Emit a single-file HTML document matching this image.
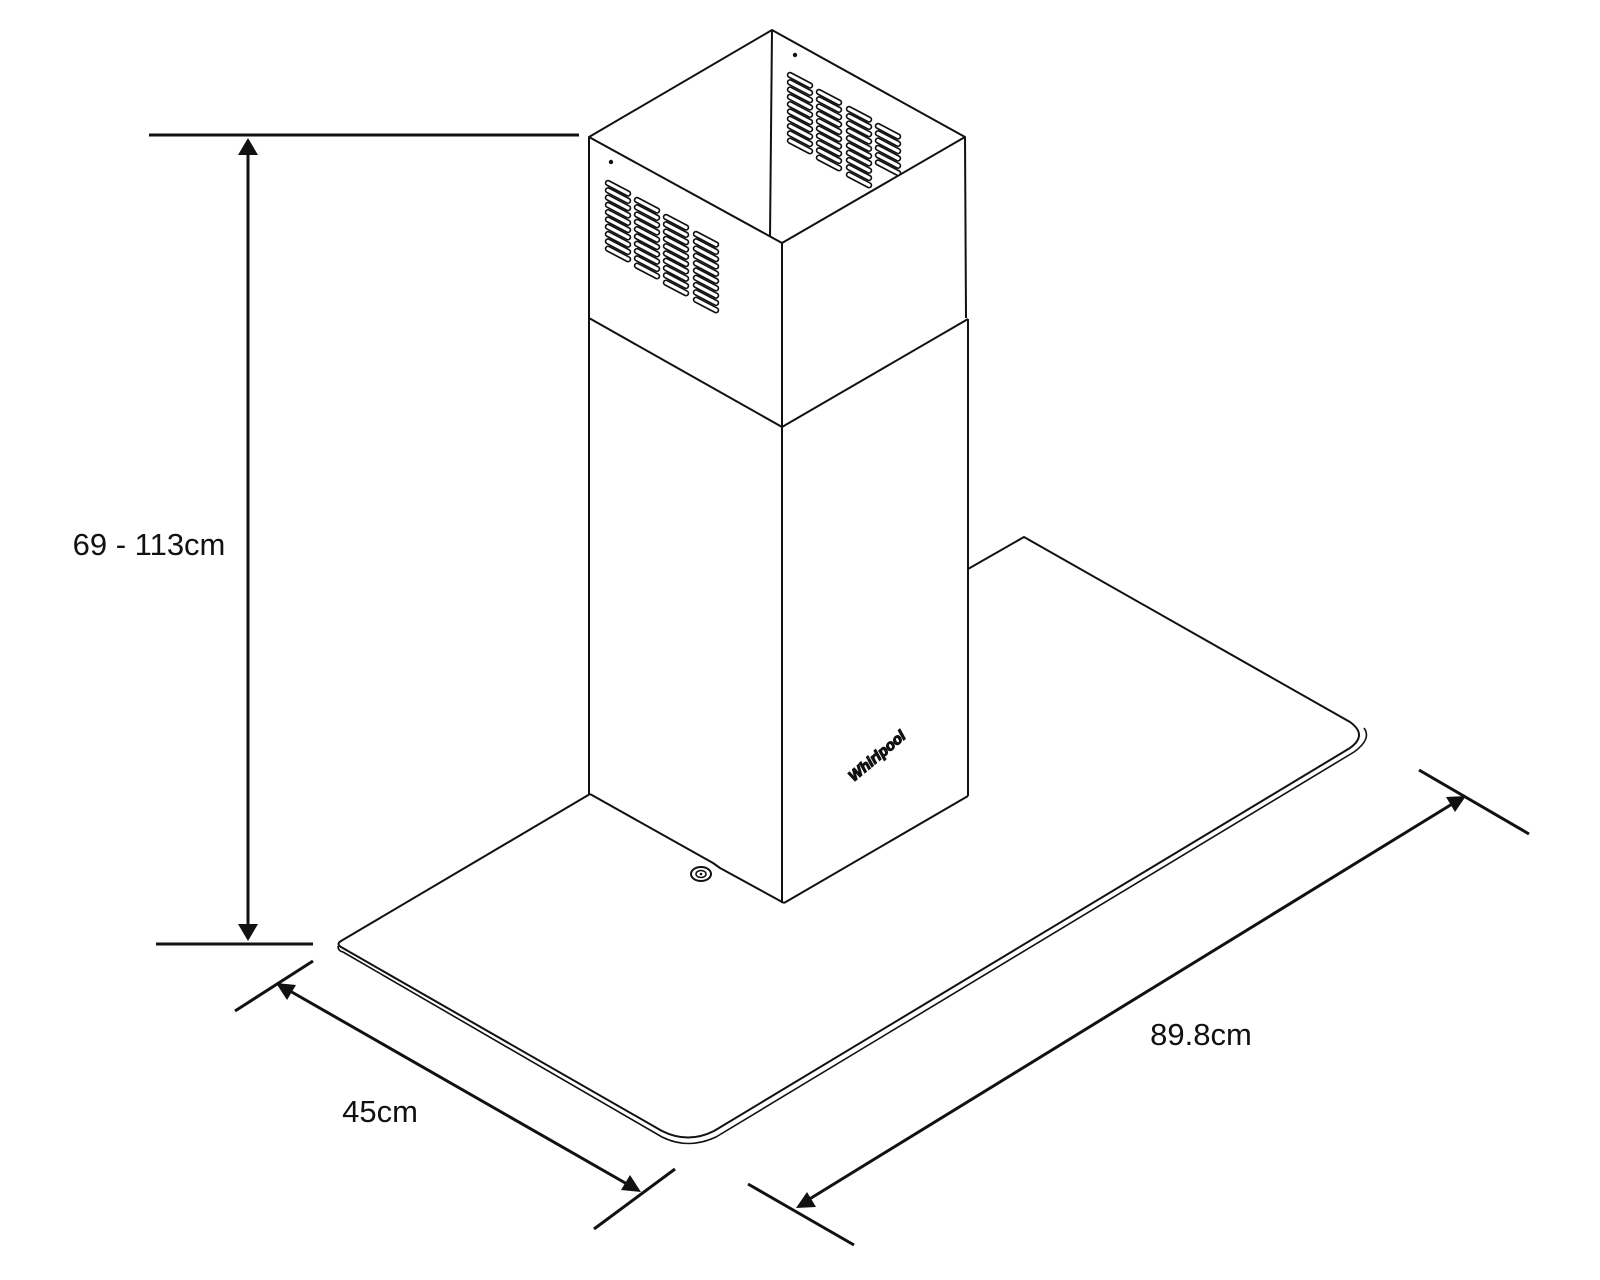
<!DOCTYPE html>
<html><head><meta charset="utf-8"><style>
html,body{margin:0;padding:0;background:#fff;}
svg{display:block;}
text{font-family:"Liberation Sans",sans-serif;fill:#111;}
</style></head><body>
<svg width="1600" height="1280" viewBox="0 0 1600 1280" xmlns="http://www.w3.org/2000/svg">
<defs>
<g id="slot"><line x1="0" y1="0" x2="20" y2="10.5" stroke="#111" stroke-width="6.5" stroke-linecap="round"/><line x1="0" y1="0" x2="20" y2="10.5" stroke="#fff" stroke-width="3.2" stroke-linecap="round"/></g>
<g id="col">
<use href="#slot" y="0"/><use href="#slot" y="7.3"/><use href="#slot" y="14.6"/><use href="#slot" y="21.9"/><use href="#slot" y="29.2"/><use href="#slot" y="36.5"/><use href="#slot" y="43.8"/><use href="#slot" y="51.1"/><use href="#slot" y="58.4"/><use href="#slot" y="65.7"/>
</g>
</defs>
<rect width="1600" height="1280" fill="#fff"/>

<g fill="none" stroke="#111" stroke-width="2" stroke-linejoin="round">
<path d="M590,794 L713,863 L720,868 L784,903"/>
<path d="M590,794 L341,941 Q336,944 341,947 L662,1131 Q688,1144 714,1131 L1350,748 Q1368,735 1350,722 L1024,537 L968,569"/>
<path d="M338,946 Q338,951 343,952 L662,1137 Q688,1150 716,1137 L1354,752 Q1372,739 1364,728" stroke-width="1.6"/>
<path d="M784,903 L968,796"/>
</g>
<ellipse cx="701" cy="874" rx="10" ry="7" fill="#fff" stroke="#111" stroke-width="2"/>
<ellipse cx="701" cy="874" rx="5" ry="3.5" fill="none" stroke="#111" stroke-width="1.5"/>
<circle cx="701" cy="874" r="1.3" fill="#111"/>

<g fill="none" stroke="#111" stroke-width="2" stroke-linejoin="round">
<path d="M589,137 L772,30 L965,137 L782,243 Z"/>
<path d="M772,30 L770,237"/>
<path d="M589,137 L589,794"/>
<path d="M782,243 L782,903"/>
<path d="M965,137 L966,318"/>
<path d="M589,318 L782,427 L968,319"/>
<path d="M968,319 L968,796"/>
</g>
<circle cx="611" cy="162" r="2.2" fill="#111"/>
<circle cx="795" cy="55" r="2.2" fill="#111"/>
<use href="#col" x="608" y="183"/>
<use href="#col" x="637" y="200"/>
<use href="#col" x="666" y="217"/>
<use href="#col" x="696" y="234"/>
<use href="#col" x="790" y="75"/>
<use href="#col" x="819" y="92"/>
<use href="#col" x="849" y="109"/>
<g><use href="#slot" x="878" y="126"/><use href="#slot" x="878" y="133.3"/><use href="#slot" x="878" y="140.6"/><use href="#slot" x="878" y="147.9"/><use href="#slot" x="878" y="155.2"/><use href="#slot" x="878" y="162.5"/></g>
<text x="877" y="761" font-size="15" font-weight="bold" font-style="italic" text-anchor="middle" stroke="#111" stroke-width="1.2" transform="rotate(-40 877 756)">Whirlpool</text>

<g stroke="#111" stroke-width="3" fill="none">
<line x1="149" y1="135" x2="579" y2="135"/>
<line x1="156" y1="944" x2="313" y2="944"/>
<line x1="248" y1="145" x2="248" y2="934"/>
<line x1="313" y1="961" x2="235" y2="1011"/>
<line x1="675" y1="1169" x2="594" y2="1229"/>
<line x1="283" y1="987" x2="634" y2="1188"/>
<line x1="1419" y1="770" x2="1529" y2="834"/>
<line x1="748" y1="1184" x2="854" y2="1245"/>
<line x1="1457" y1="801" x2="803" y2="1203"/>
</g>
<g fill="#111">
<polygon points="248,138 238,155 258,155"/>
<polygon points="248,941 238,924 258,924"/>
<polygon points="276,983 296,985 287,1000"/>
<polygon points="641,1192 621,1190 630,1175"/>
<polygon points="1466,796 1446,797 1455,812"/>
<polygon points="796,1208 816,1207 807,1192"/>
</g>
<text x="149" y="555" font-size="31" text-anchor="middle">69 - 113cm</text>
<text x="380" y="1122" font-size="31" text-anchor="middle">45cm</text>
<text x="1201" y="1045" font-size="31" text-anchor="middle">89.8cm</text>
</svg>
</body></html>
